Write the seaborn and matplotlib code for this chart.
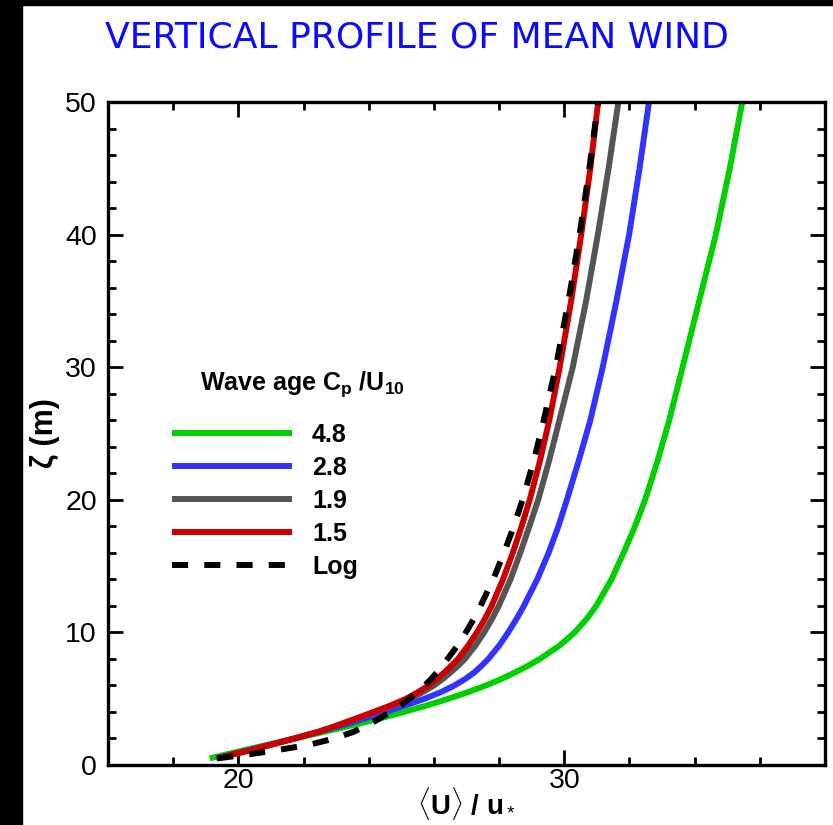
import pandas as pd
import matplotlib
matplotlib.use("Agg")
import matplotlib.pyplot as plt
from matplotlib.ticker import MultipleLocator
from matplotlib.patches import Rectangle
import seaborn as sns

# Height above the mean surface (m)
height = [0.5, 0.75, 1, 1.5, 2, 2.5, 3, 3.5, 4, 4.5, 5, 5.5, 6, 6.5, 7, 7.5,
          8, 9, 10, 11, 12, 14, 16, 18, 20, 23, 26, 30, 35, 40, 45, 50]

# Normalised mean wind <U>/u* for each wave age Cp/U10, plus the log law
u_48 = [19.12, 19.55, 19.98, 20.85, 21.72, 22.62, 23.5, 24.33, 25.08, 25.8,
        26.45, 27.05, 27.6, 28.08, 28.5, 28.9, 29.25, 29.85, 30.32, 30.68,
        30.98, 31.45, 31.82, 32.17, 32.48, 32.87, 33.22, 33.63, 34.14, 34.65,
        35.08, 35.46]
u_28 = [19.32, 19.72, 20.12, 20.92, 21.72, 22.48, 23.2, 23.86, 24.5, 25.13,
        25.72, 26.22, 26.63, 26.97, 27.25, 27.47, 27.67, 28.0, 28.28, 28.53,
        28.76, 29.17, 29.52, 29.82, 30.08, 30.45, 30.8, 31.18, 31.6, 31.99,
        32.31, 32.6]
u_19 = [19.35, 19.75, 20.16, 20.96, 21.72, 22.45, 23.07, 23.65, 24.22, 24.77,
        25.27, 25.66, 26.0, 26.28, 26.52, 26.75, 26.95, 27.27, 27.54, 27.78,
        27.99, 28.35, 28.65, 28.93, 29.2, 29.54, 29.85, 30.26, 30.67, 31.03,
        31.36, 31.66]
u_15 = [19.35, 19.75, 20.16, 20.96, 21.72, 22.45, 23.05, 23.6, 24.15, 24.68,
        25.15, 25.52, 25.84, 26.1, 26.33, 26.54, 26.74, 27.05, 27.32, 27.56,
        27.77, 28.12, 28.42, 28.69, 28.94, 29.26, 29.54, 29.86, 30.21, 30.52,
        30.8, 31.04]
u_log = [19.35, 20.15, 20.88, 22.13, 22.95, 23.53, 23.96, 24.33, 24.66, 24.98,
         25.25, 25.5, 25.72, 25.92, 26.1, 26.27, 26.42, 26.72, 26.98, 27.22,
         27.43, 27.82, 28.15, 28.45, 28.72, 29.07, 29.37, 29.74, 30.13, 30.47,
         30.77, 31.04]

series_labels = ["4.8", "2.8", "1.9", "1.5", "Log"]
series_colors = ["#00d000", "#3333ff", "#555555", "#cc0000", "#000000"]
x_ticks = [20, 30]
y_ticks = [0, 10, 20, 30, 40, 50]

sns.set_style("ticks")
plt.rcParams["font.family"] = ["Liberation Sans", "DejaVu Sans"]
plt.rcParams["mathtext.fontset"] = "custom"
plt.rcParams["mathtext.rm"] = "Liberation Sans"
plt.rcParams["mathtext.bf"] = "Liberation Sans:bold"
plt.rcParams["mathtext.it"] = "Liberation Sans:italic"
plt.rcParams.update({
    "text.color": "black", "axes.labelcolor": "black",
    "xtick.color": "black", "ytick.color": "black",
    "xtick.direction": "in", "ytick.direction": "in",
    "xtick.top": True, "ytick.right": True,
    "xtick.major.size": 10.8, "ytick.major.size": 10.8,
    "xtick.minor.size": 5.8, "ytick.minor.size": 5.8,
    "xtick.major.width": 2.0, "ytick.major.width": 2.0,
    "xtick.minor.width": 2.0, "ytick.minor.width": 2.0,
    "axes.linewidth": 2.4,
    "axes.edgecolor": "black",
})

frames = []
for label, values in zip(series_labels, [u_48, u_28, u_19, u_15, u_log]):
    frames.append(pd.DataFrame({"U": values, "z": height, "case": label}))
profiles = pd.concat(frames, ignore_index=True)

W, H = 833, 825
fig = plt.figure(figsize=(W / 100, H / 100), dpi=100)
fig.patch.set_facecolor("white")
# dark frame on the left and top edges
fig.patches.append(Rectangle((0, 0), 22 / W, 1, transform=fig.transFigure,
                             color="black", zorder=-1))
fig.patches.append(Rectangle((0, 1 - 5 / H), 1, 5 / H, transform=fig.transFigure,
                             color="black", zorder=-1))

ax = fig.add_axes([108 / W, 1 - 765 / H, (825 - 108) / W, (765 - 102) / H])

sns.lineplot(
    data=profiles, x="U", y="z", hue="case", style="case",
    hue_order=series_labels, style_order=series_labels,
    palette=dict(zip(series_labels, series_colors)),
    dashes={"4.8": "", "2.8": "", "1.9": "", "1.5": "", "Log": (2.7, 2.7)},
    sort=False, estimator=None, linewidth=4.3, ax=ax, legend=False,
)
for line in ax.lines:
    line.set_solid_capstyle("butt")
    line.set_dash_capstyle("butt")
    line.set_solid_joinstyle("round")

ax.set_xlim(16, 38)
ax.set_ylim(0, 50)
ax.set_xticks(x_ticks)
ax.set_yticks(y_ticks)
ax.xaxis.set_minor_locator(MultipleLocator(2))
ax.yaxis.set_minor_locator(MultipleLocator(2))
ax.tick_params(axis="x", which="both", labelsize=20.5, pad=2)
ax.tick_params(axis="y", which="both", labelsize=20.5, pad=8)

ax.set_xlabel(r"$\langle$U$\rangle$ / u$_*$", fontsize=20, fontweight="bold", labelpad=-6)
ax.set_ylabel("ζ (m)", fontsize=22, fontweight="bold", labelpad=4)

leg = ax.legend(
    handles=list(ax.lines[:5]), labels=series_labels,
    loc="upper left", bbox_to_anchor=(172 / W, 1 - 423 / H),
    bbox_transform=fig.transFigure, frameon=False,
    prop={"weight": "bold", "size": 18},
    borderpad=0, borderaxespad=0, handlelength=4.8, handletextpad=0.8,
    labelspacing=0.36,
)
fig.text(200 / W, 1 - 384 / H, r"Wave age C$_\mathbf{p}$ /U$_\mathbf{10}$",
         fontsize=18, fontweight="bold", ha="left", va="center")

fig.text(0.5, 1 - 38 / H, "VERTICAL PROFILE OF MEAN WIND", color="#0a0aff",
         fontsize=26, family="DejaVu Sans", ha="center", va="center")

fig.savefig("out.png", dpi=100, facecolor=fig.get_facecolor())
